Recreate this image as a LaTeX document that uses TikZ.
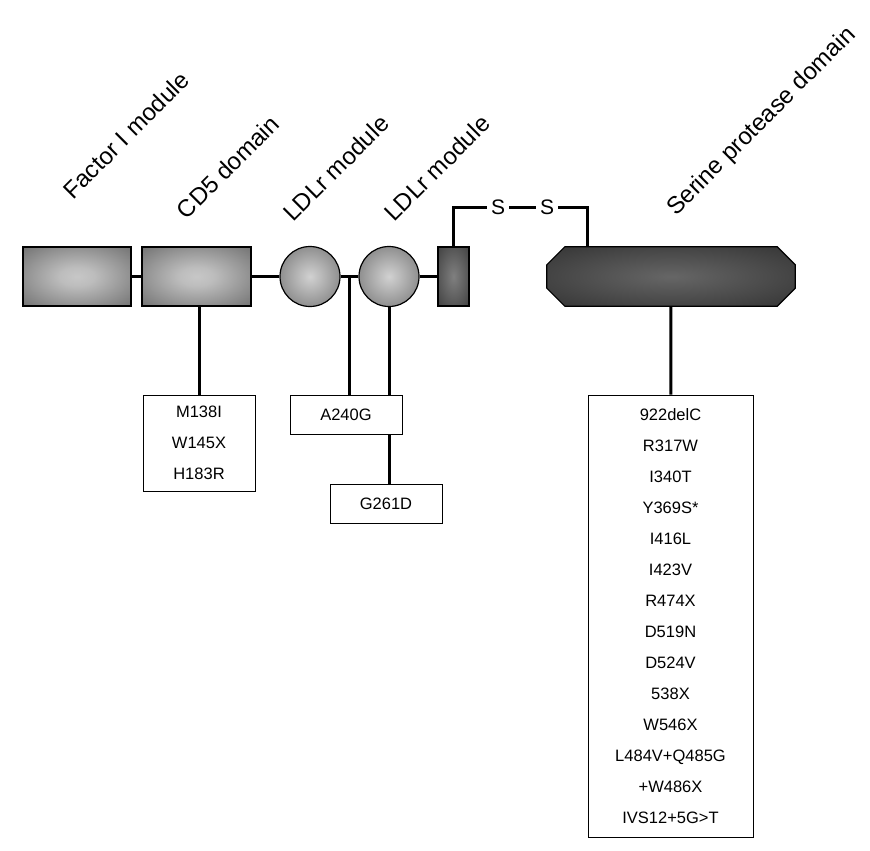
\documentclass[tikz,border=0pt]{standalone}
\usepackage{fontspec}
\setmainfont{Liberation Sans}
\usetikzlibrary{calc}

\pgfdeclareradialshading{modshade}{\pgfpoint{0bp}{0bp}}{color(0bp)=(black!22); color(8bp)=(black!26); color(50bp)=(black!70); color(72bp)=(black!72)}
\pgfdeclareradialshading{ballshade}{\pgfpoint{0bp}{0bp}}{color(0bp)=(black!18); color(10bp)=(black!28); color(50bp)=(black!70); color(72bp)=(black!72)}
\pgfdeclareradialshading{linkshade}{\pgfpoint{0bp}{0bp}}{color(0bp)=(black!50); color(50bp)=(black!84); color(72bp)=(black!86)}
\pgfdeclareradialshading{sershade}{\pgfpoint{0bp}{0bp}}{color(0bp)=(black!60); color(50bp)=(black!87); color(72bp)=(black!89)}

\begin{document}
\begin{tikzpicture}[x=1pt,y=-1pt,
    dombox/.style={draw=black,line width=1.2pt,inner sep=0pt,minimum height=59pt},
    ldlr/.style={dombox,circle,minimum size=60pt,shading=ballshade},
    mutbox/.style={draw=black,line width=1pt,fill=white,inner sep=0pt,minimum width=112pt,minimum height=39pt,align=center,font=\fontsize{16.5}{31}\selectfont},
    lbl/.style={rotate=45,font=\fontsize{24}{26}\selectfont,inner sep=0pt},
    conn/.style={line width=3pt}]
\useasboundingbox (0,0) rectangle (870,851);

    \node[dombox,minimum width=108pt,shading=modshade] (fac) at (77,276.5) {};
    \node[dombox,minimum width=109pt,shading=modshade] (cd5) at (196.5,276.5) {};
    \node[ldlr] (ldl1) at (310,276.5) {};
    \node[ldlr] (ldl2) at (389,276.5) {};
    \node[dombox,minimum width=31pt,shading=linkshade] (lnk) at (453.5,276.5) {};
    \node[inner sep=0pt,minimum width=248pt,minimum height=59pt] (ser) at (671,276.5) {};
    % chamfered serine protease block
    \draw[line width=1.2pt,shading=sershade] ($(ser.north west)+(18,0)$) -- ($(ser.north east)+(-18,0)$)
        -- ($(ser.north east)+(0,18)$) -- ($(ser.south east)+(0,-18)$) -- ($(ser.south east)+(-18,0)$)
        -- ($(ser.south west)+(18,0)$) -- ($(ser.south west)+(0,-18)$) -- ($(ser.north west)+(0,18)$) -- cycle;

    \node[lbl] (lfac) at (126,135) {Factor I module};
    \node[lbl] (lcd5) at (228,167) {CD5 domain};
    \node[lbl] (lldl1) at (336,168) {LDLr module};
    \node[lbl] (lldl2) at (437,168) {LDLr module};
    \node[lbl] (lser) at (762,122) {Serine protease domain};

    \node[font=\fontsize{21}{24}\selectfont,inner sep=4pt] (s1) at (498,207) {S};
    \node[font=\fontsize{21}{24}\selectfont,inner sep=4pt] (s2) at (547,207) {S};
    \coordinate (ctop) at (587,247);
    \coordinate (j1) at (349,276.5);

    \node[mutbox,minimum height=96pt] (m1) at (199,443) {M138I\\W145X\\H183R};
    \node[mutbox] (a240) at (346,414.5) {A240G};
    \node[mutbox] (g261) at (386,503.5) {G261D};
    \node[mutbox,minimum width=165pt,minimum height=442pt] (mser) at (670.5,616) {922delC\\R317W\\I340T\\Y369S*\\I416L\\I423V\\R474X\\D519N\\D524V\\538X\\W546X\\L484V+Q485G\\+W486X\\IVS12+5G>T};

    \draw[conn] (fac) -- (cd5);
    \draw[conn] (cd5) -- (ldl1);
    \draw[conn] (ldl1) -- (ldl2);
    \draw[conn] (ldl2) -- (lnk);
    \draw[conn] (m1.north) -- (m1.north |- cd5.south);
    \draw[conn] (j1) -- (j1 |- a240.north);
    \draw[conn] (ldl2.south) -- (ldl2.south |- a240.north);
    \draw[conn] (ldl2.south |- a240.south) -- (ldl2.south |- g261.north);
    \draw[conn] (lnk.north) |- (s1);
    \draw[conn] (s1) -- (s2);
    \draw[conn] (s2) -| (ctop);
    \draw[conn] (ser) -- (mser);
\end{tikzpicture}
\end{document}
